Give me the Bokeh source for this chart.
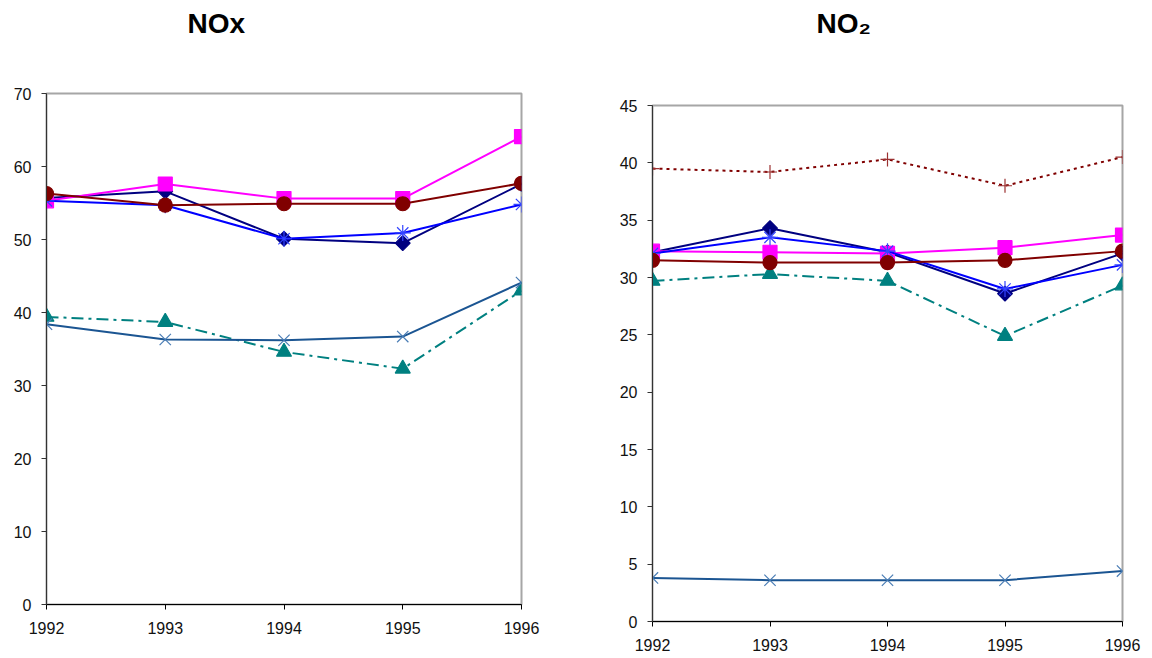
import math
from bokeh.plotting import figure
from bokeh.layouts import row, column
from bokeh.models import Range1d, FixedTicker, Title
from bokeh.embed import file_html
from bokeh.resources import INLINE

years = [1992, 1993, 1994, 1995, 1996]

# NOx
nox_diamond = [55.7, 56.6, 50.1, 49.5, 57.6]
nox_square = [55.3, 57.6, 55.6, 55.6, 64.1]
nox_triangle = [39.4, 38.7, 34.6, 32.3, 43.0]
nox_x = [38.4, 36.3, 36.2, 36.7, 44.1]
nox_asterisk = [55.3, 54.7, 50.1, 50.9, 54.8]
nox_circle = [56.3, 54.7, 54.9, 54.9, 57.7]

# NO2
no2_diamond = [32.2, 34.3, 32.2, 28.6, 32.1]
no2_square = [32.3, 32.2, 32.1, 32.6, 33.7]
no2_triangle = [29.7, 30.3, 29.7, 24.9, 29.3]
no2_x = [3.8, 3.6, 3.6, 3.6, 4.4]
no2_asterisk = [32.1, 33.5, 32.3, 29.0, 31.1]
no2_circle = [31.5, 31.3, 31.3, 31.5, 32.3]
no2_plus = [39.5, 39.2, 40.3, 38.0, 40.5]

NAVY = "#000080"
MAGENTA = "#FF00FF"
TEAL = "#008080"
STEEL = "#1B5592"
BLUE = "#0000FF"
DRED = "#800000"
FONT = "Liberation Sans"


def style(p, ymax, ystep, title, offset, spacer):
    p.xaxis.ticker = FixedTicker(ticks=years)
    p.yaxis.ticker = FixedTicker(ticks=list(range(0, ymax + 1, ystep)))
    p.xgrid.visible = False
    p.ygrid.visible = False
    p.outline_line_color = "#A6A6A6"
    p.outline_line_width = 2
    for ax in (p.xaxis[0], p.yaxis[0]):
        ax.major_tick_in = 0
        ax.major_tick_out = 5
        ax.minor_tick_line_color = None
        ax.major_label_text_font = FONT
        ax.major_label_text_font_size = "16px"
        ax.major_label_text_color = "#111111"
        ax.axis_line_width = 1
    p.xaxis[0].axis_line_color = "black"
    p.xaxis[0].major_tick_line_color = "black"
    p.yaxis[0].axis_line_color = "#333333"
    p.yaxis[0].major_tick_line_color = "#333333"
    p.xaxis[0].major_label_standoff = 12
    p.yaxis[0].major_label_standoff = 10
    # spacer next to the frame, then the real title above it
    p.add_layout(Title(text=" ", text_font_size="1px", standoff=spacer), "above")
    p.add_layout(Title(text=title, align="left", offset=offset, standoff=8,
                       text_font=FONT, text_font_size="28px",
                       text_font_style="bold", text_color="black"), "above")


def series(p, ys, color, marker, size, dash="solid", mcolor=None, fill=True, angle=0.0):
    mcolor = mcolor or color
    p.line(years, ys, line_color=color, line_width=2, line_dash=dash)
    p.scatter(years, ys, marker=marker, size=size, line_color=mcolor, angle=angle,
              fill_color=mcolor if fill else None, line_width=1.2)


def add_all(p, d, s, t, x, a, c):
    series(p, d, NAVY, "square", 10.5, angle=math.pi / 4)
    series(p, s, MAGENTA, "square", 14)
    series(p, t, TEAL, "triangle", 15, dash="12 5 3 5")
    series(p, x, STEEL, "x", 16, mcolor="#4A7DB5", fill=False)
    series(p, a, BLUE, "asterisk", 16, mcolor="#3344FF", fill=False)
    series(p, c, DRED, "circle", 14)


# Left chart
p1 = figure(width=582, height=650, output_backend="svg", toolbar_location=None,
            title=None,
            x_range=Range1d(1992, 1996), y_range=Range1d(0, 70),
            min_border_left=46, min_border_right=61, min_border_top=93,
            min_border_bottom=46)
style(p1, 70, 10, "NOx", 141, 48)
add_all(p1, nox_diamond, nox_square, nox_triangle, nox_x, nox_asterisk, nox_circle)

# Right chart
p2 = figure(width=570, height=656, output_backend="svg", toolbar_location=None,
            title=None,
            x_range=Range1d(1992, 1996), y_range=Range1d(0, 45),
            min_border_left=70, min_border_right=30, min_border_top=105,
            min_border_bottom=35)
style(p2, 45, 5, "NO₂", 164, 60)
add_all(p2, no2_diamond, no2_square, no2_triangle, no2_x, no2_asterisk, no2_circle)
series(p2, no2_plus, DRED, "cross", 14, dash="3 4", mcolor="#9B3030", fill=False)

layout = row(column(p1), column(p2))
open("out.html", "w").write(file_html(layout, INLINE))
